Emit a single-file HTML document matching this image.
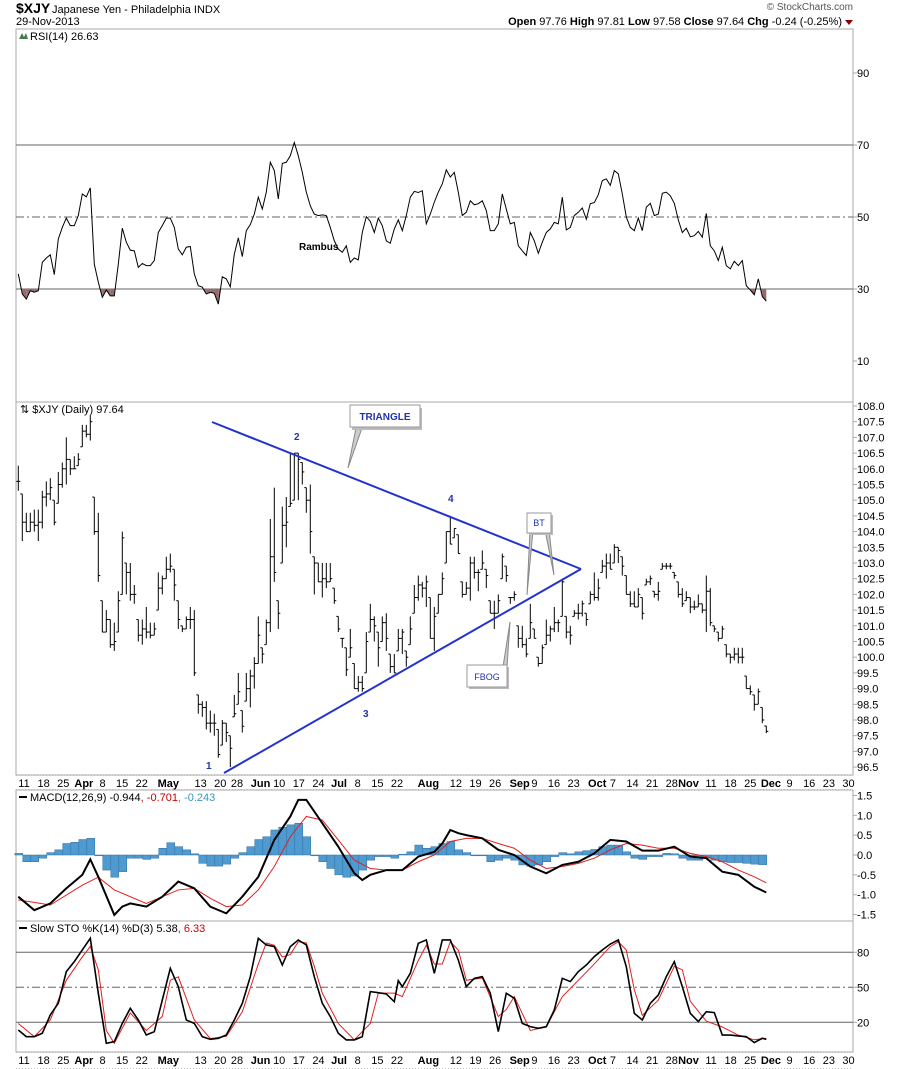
<!DOCTYPE html>
<html><head><meta charset="utf-8">
<style>
html,body{margin:0;padding:0;background:#fff;}
svg{display:block;font-family:"Liberation Sans",Arial,sans-serif;}
</style></head>
<body>
<svg id="chart" width="900" height="1069" viewBox="0 0 900 1069" xmlns="http://www.w3.org/2000/svg">
<rect x="0" y="0" width="900" height="1069" fill="#fff"/>
<g>
<text x="16" y="13" font-size="14" font-weight="bold">$XJY</text>
<text x="52" y="13" font-size="11">Japanese Yen - Philadelphia INDX</text>
<text x="16" y="25" font-size="11">29-Nov-2013</text>
<text x="853" y="10" font-size="10" fill="#555" text-anchor="end">© StockCharts.com</text>
<text x="842" y="25" font-size="11" text-anchor="end"><tspan font-weight="bold">Open</tspan> 97.76 <tspan font-weight="bold">High</tspan> 97.81 <tspan font-weight="bold">Low</tspan> 97.58 <tspan font-weight="bold">Close</tspan> 97.64 <tspan font-weight="bold">Chg</tspan> -0.24 (-0.25%)</text>
<path d="M845 20 L853 20 L849 25 Z" fill="#8b0000"/>
</g>
<g id="panels"></g>
<g id="marks"></g>
<g id="annot">
<line x1="212" y1="422" x2="581" y2="569" stroke="#2233cc" stroke-width="2"/>
<line x1="224" y1="773" x2="581" y2="569" stroke="#2233cc" stroke-width="2"/>
<text x="206" y="769" font-size="10" font-weight="bold" fill="#2233aa">1</text>
<text x="294" y="440" font-size="10" font-weight="bold" fill="#2233aa">2</text>
<text x="363" y="717" font-size="10" font-weight="bold" fill="#2233aa">3</text>
<text x="448" y="502" font-size="10" font-weight="bold" fill="#2233aa">4</text>
<g>
<path d="M356 428 L348 468 L362 428 Z" fill="#ccc" stroke="#888" stroke-width="1"/>
<rect x="352" y="408" width="70" height="22" fill="#bbb"/>
<rect x="350" y="405" width="70" height="22" fill="#fff" stroke="#999"/>
<text x="385" y="420" font-size="10" font-weight="bold" fill="#2233aa" text-anchor="middle">TRIANGLE</text>
</g>
<g>
<path d="M530 530 L527 595 L533 530 Z" fill="#ccc" stroke="#888"/>
<path d="M545 530 L554 575 L549 530 Z" fill="#ccc" stroke="#888"/>
<rect x="529" y="515" width="24" height="20" fill="#bbb"/>
<rect x="527" y="513" width="24" height="20" fill="#fff" stroke="#999"/>
<text x="539" y="526" font-size="9" fill="#2233aa" text-anchor="middle">BT</text>
</g>
<g>
<path d="M503 667 L510 622 L507 667 Z" fill="#ccc" stroke="#888"/>
<rect x="469" y="667" width="40" height="22" fill="#bbb"/>
<rect x="467" y="665" width="40" height="22" fill="#fff" stroke="#999"/>
<text x="487" y="680" font-size="9" fill="#2233aa" text-anchor="middle">FBOG</text>
</g>
<text x="299" y="250" font-size="10" font-weight="bold" fill="#000">Rambus</text>
</g>
</svg>
<script>
// ---------------- DATA ----------------
const priceHigh = [106.1,105.2,104.6,104.6,104.7,104.7,105.3,105.6,105.7,105.0,
105.9,106.2,107.0,106.3,106.4,106.5,107.4,107.4,107.7,105.1,
104.6,101.8,101.5,101.2,101.1,102.1,104.0,103.0,103.0,102.3,
101.2,101.2,101.6,101.1,101.1,102.7,102.6,103.2,103.3,102.8,
101.8,101.0,101.3,101.6,101.5,98.8,98.6,98.6,98.3,98.2,
97.7,98.0,97.9,97.5,98.8,99.5,98.3,99.5,99.6,100.0,
101.3,100.3,101.2,104.4,105.4,101.8,104.8,105.1,106.5,106.5,
106.5,106.2,105.4,105.5,103.2,103.0,103.0,103.0,103.0,102.2,
101.3,100.6,100.3,100.9,99.8,99.4,99.4,100.8,101.7,101.3,
100.8,101.3,101.4,100.1,100.1,100.9,100.9,100.2,101.3,102.3,
102.6,102.4,102.6,101.9,101.6,102.0,102.7,104.0,104.5,104.1,
103.9,102.4,102.4,103.2,103.2,102.8,103.4,102.8,101.8,101.8,
102.0,103.3,102.9,101.9,102.1,101.0,101.0,100.6,101.7,100.9,
100.0,100.4,101.2,101.0,101.6,101.2,102.5,101.3,101.0,101.5,
101.7,101.8,101.4,102.1,102.7,102.5,103.1,103.3,103.3,103.6,
103.5,103.2,102.6,102.1,102.1,102.2,101.9,102.5,102.6,102.1,
102.4,103.0,103.0,103.0,102.7,102.4,102.2,102.1,101.9,101.8,
102.0,101.7,102.6,102.2,101.0,100.8,101.0,100.4,100.1,100.3,
100.3,100.3,99.4,99.1,98.8,99.0,98.4,97.81];
const priceLow = [105.3,103.7,104.0,104.0,104.0,103.7,104.1,104.8,105.0,104.2,
104.9,105.4,105.5,105.8,106.0,106.1,106.7,107.0,106.9,103.9,
102.4,100.8,100.8,100.3,100.2,100.8,102.0,102.0,101.8,101.7,
100.5,100.4,100.6,100.6,100.7,101.5,102.0,102.5,102.7,101.8,
100.9,100.8,100.9,100.9,99.4,98.2,98.1,97.7,97.6,97.5,
96.8,97.2,97.3,96.5,98.1,98.5,97.6,98.6,98.4,99.0,
99.8,99.8,100.4,100.8,102.4,100.9,103.0,103.5,104.8,105.0,
105.0,105.5,104.6,103.3,102.0,102.4,101.9,102.2,102.4,101.7,
100.8,100.3,99.4,100.0,99.0,98.9,98.9,99.5,100.8,100.5,
99.7,100.5,100.2,99.5,99.5,100.2,100.1,99.7,100.4,101.4,
101.8,101.9,101.6,100.6,100.2,101.4,102.0,103.0,103.6,103.8,
103.3,101.9,102.0,101.8,102.5,102.1,102.8,102.2,101.4,100.9,
101.4,102.5,102.4,101.7,101.8,100.3,100.3,100.0,100.6,100.6,
99.7,99.8,100.4,100.5,100.8,100.8,101.3,100.6,100.4,101.3,
101.2,101.3,101.0,101.7,101.8,101.8,102.7,102.5,102.8,103.0,
103.0,102.6,102.0,101.6,101.6,101.6,101.2,102.3,102.3,101.9,
101.8,102.8,102.8,102.8,102.5,101.9,101.6,101.8,101.4,101.5,
101.6,101.4,100.8,101.0,100.8,100.5,100.6,100.0,99.8,99.9,
99.8,99.8,99.0,98.8,98.3,98.5,97.9,97.58];
const priceClose = [105.6,104.3,104.0,104.3,104.2,104.3,105.1,105.2,105.4,104.3,
105.5,106.0,106.3,106.0,106.0,106.3,107.2,107.1,107.5,104.0,
102.6,100.8,101.2,100.4,100.5,101.8,103.8,102.7,102.0,102.0,
100.7,100.9,100.8,100.7,100.9,102.2,102.5,102.8,102.9,102.3,
101.2,100.9,101.2,101.2,99.5,98.5,98.4,97.9,97.9,97.9,
96.9,97.9,97.6,97.1,98.2,98.9,97.8,99.0,99.4,99.8,
100.7,100.1,101.1,103.2,102.7,101.4,104.2,104.3,104.9,106.5,
106.3,105.9,105.0,104.0,103.0,102.4,102.5,102.4,102.5,101.8,
100.9,100.6,99.6,100.3,99.0,99.2,99.0,100.5,101.2,101.0,
100.3,101.1,100.6,99.7,99.5,100.6,100.8,100.0,100.9,101.9,
102.3,102.2,102.4,100.6,101.3,102.0,102.5,104.0,103.6,104.1,
103.3,102.0,102.2,103.0,102.7,102.7,103.0,102.6,101.4,101.4,
101.8,103.2,102.6,101.9,102.0,100.6,100.4,100.1,101.1,100.6,
99.8,100.3,100.7,100.9,101.1,101.1,102.4,100.8,100.7,101.4,
101.4,101.7,101.2,102.0,101.9,102.2,102.9,103.0,102.8,103.5,
103.4,102.9,102.0,101.7,101.6,102.0,101.4,102.4,102.5,102.0,
102.1,102.9,102.9,102.9,102.6,102.0,101.7,101.9,101.6,101.6,
101.7,101.5,102.1,101.1,100.9,100.6,100.9,100.1,100.0,100.1,
100.0,100.0,99.0,98.9,98.5,98.9,98.0,97.64];
const rsiValues = [34.2,28.6,27.2,29.5,29.1,29.5,37.4,38.6,39.5,34.0,43.9,47.1,49.7,47.6,47.6,50.4,56.4,55.6,58.1,36.9,
31.9,27.7,29.7,28.1,28.1,36.9,46.9,43.0,40.8,40.6,36.0,37.1,36.5,36.5,37.9,45.7,47.6,49.7,49.7,47.1,
41.1,39.5,41.6,41.8,34.2,30.9,30.5,28.6,29.1,28.8,25.8,33.4,32.8,30.6,39.7,44.2,39.0,46.2,47.9,50.8,
55.5,52.2,56.9,65.2,62.9,55.0,64.9,65.2,67.0,70.7,67.0,62.4,56.9,53.1,50.8,50.4,50.6,50.4,47.1,43.4,
41.1,40.2,42.0,37.4,38.6,38.1,45.7,50.1,48.8,45.7,49.7,47.6,43.4,42.7,46.7,49.2,46.2,50.4,55.5,57.1,
56.8,57.3,48.1,50.8,54.1,56.9,59.2,63.1,61.1,62.4,56.9,50.4,51.3,54.5,53.4,53.7,54.5,51.8,46.2,46.2,
48.1,56.4,52.2,48.1,48.5,42.0,40.6,39.3,45.7,43.4,39.9,43.0,45.7,46.7,48.5,48.1,55.5,46.4,47.1,50.4,
51.3,52.5,49.4,53.7,54.0,56.2,60.1,60.6,58.8,62.9,62.0,56.4,50.0,47.1,46.2,49.7,46.2,52.7,53.8,50.4,
50.8,56.6,56.9,55.9,53.8,49.2,45.7,46.9,44.5,44.8,46.0,44.4,51.0,42.0,40.6,37.9,41.6,36.5,35.6,37.7,
36.5,37.9,30.9,29.7,28.4,32.8,27.9,26.63];
const macdIdx = [0,4,8,12,16,18,20,24,26,28,32,36,40,44,48,52,56,60,64,68,70,72,76,80,84,86,88,92,96,100,104,106,108,110,112,116,120,124,128,132,136,140,144,148,152,156,160,164,168,172,176,180,184,187];
const macdLine = [-1.05,-1.39,-1.22,-0.84,-0.50,-0.11,-0.55,-1.51,-1.30,-1.22,-1.30,-1.05,-0.67,-0.84,-1.30,-1.47,-1.05,-0.55,0.38,0.97,1.39,1.39,0.80,0.21,-0.46,-0.63,-0.50,-0.38,-0.38,-0.04,0.08,0.29,0.63,0.55,0.50,0.42,0.13,0.00,-0.29,-0.46,-0.25,-0.17,0.04,0.38,0.34,0.11,0.11,0.21,-0.04,-0.08,-0.42,-0.50,-0.80,-0.944];
const signalIdx = [0,8,16,20,24,32,40,44,48,52,56,60,64,68,72,76,80,84,88,92,96,100,104,108,112,116,120,124,128,132,136,140,144,148,152,156,160,164,168,172,176,180,184,187];
const signalLine = [-1.13,-1.26,-0.76,-0.56,-0.88,-1.22,-0.88,-0.84,-1.09,-1.30,-1.26,-0.88,-0.29,0.46,0.97,0.88,0.38,-0.13,-0.34,-0.38,-0.38,-0.17,0.0,0.34,0.42,0.42,0.29,0.17,-0.13,-0.34,-0.29,-0.21,-0.08,0.13,0.29,0.25,0.17,0.17,0.04,-0.04,-0.17,-0.38,-0.55,-0.701];
const histValues = [0.04,-0.17,-0.17,-0.08,0.06,0.13,0.29,0.32,0.39,0.42,0,-0.38,-0.56,-0.42,-0.08,-0.08,-0.11,-0.08,0.17,0.31,
0.21,0.13,0.03,-0.21,-0.28,-0.28,-0.23,-0.08,0.06,0.21,0.39,0.46,0.63,0.70,0.76,0.80,0.46,0,-0.17,-0.34,
-0.50,-0.56,-0.53,-0.38,-0.13,-0.04,-0.04,-0.08,0.02,0.08,0.25,0.17,0.21,0.29,0.34,0.13,0.06,0,-0.02,-0.17,
-0.13,-0.08,-0.13,-0.25,-0.28,-0.25,-0.17,-0.04,0.06,0.03,0.08,0.11,0.14,0.21,0.25,0.25,0.08,-0.08,-0.11,-0.04,
-0.04,0.04,0.03,-0.08,-0.13,-0.13,-0.08,-0.13,-0.17,-0.19,-0.19,-0.21,-0.23,-0.243];
const stoKIdx = [0,2,4,6,8,10,12,14,16,18,20,22,24,26,28,30,32,34,36,38,40,42,44,46,48,50,52,54,56,58,60,62,64,66,68,70,72,74,76,78,80,82,84,86,88,90,92,94,95,96,98,100,102,104,106,108,110,112,114,116,118,120,122,124,126,128,130,132,134,136,138,140,142,144,146,148,150,152,154,156,158,160,162,164,166,168,170,172,174,176,178,180,182,184,186,187];
const stoK = [13.4,7.7,7.7,10.6,26.3,36.3,63.4,72.0,82.0,92.0,44.9,2.0,3.4,19.1,32.0,22.0,9.1,12.0,39.1,66.3,50.6,22.0,19.1,7.7,5.4,6.3,9.1,22.0,36.3,59.1,92.0,86.3,84.9,69.1,84.9,90.6,86.3,59.1,36.3,24.9,10.6,4.9,4.9,7.7,46.3,45.4,44.3,37.7,55.7,50.6,62.0,87.7,90.6,62.0,90.6,90.6,73.4,50.6,57.7,59.1,44.9,12.0,44.9,40.6,19.1,16.3,14.9,16.3,30.6,57.7,54.9,63.4,69.1,76.3,82.0,87.1,90.6,67.7,27.7,22.0,36.3,43.4,59.1,72.0,50.6,27.7,20.6,29.1,28.3,9.1,9.1,8.3,7.7,2.6,6.3,5.38];
const stoDIdx = [0,4,8,12,16,18,20,22,24,28,32,36,38,40,44,48,52,56,60,62,64,66,68,70,72,74,76,80,84,88,90,94,96,100,102,104,106,108,110,112,116,120,122,124,128,132,136,140,144,148,150,152,154,156,160,164,166,168,172,176,180,184,187];
const stoD = [19,7.7,22,56,76,85,65,13,2,28,13,25,56,59,22,6,8,29,70,88,86,76,78,89,88,68,45,19,5,19,45,45,42,73,86,70,70,89,82,56,58,25,31,42,13,16,42,56,70,85,89,82,48,26,39,68,65,38,21,16,9,5,6.33];
const rsiTicks = [90,70,50,30,10];
const priceTicks = ["108.0","107.5","107.0","106.5","106.0","105.5","105.0","104.5","104.0","103.5","103.0","102.5","102.0","101.5","101.0","100.5","100.0","99.5","99.0","98.5","98.0","97.5","97.0","96.5"];
const macdTicks = ["1.5","1.0","0.5","0.0","-0.5","-1.0","-1.5"];
const stoTicks = [80,50,20];
const dateLabels = ["11","18","25","Apr","8","15","22","May","13","20","28","Jun","10","17","24","Jul","8","15","22","Aug","12","19","26","Sep","9","16","23","Oct","7","14","21","28","Nov","11","18","25","Dec","9","16","23","30"];
const dateWeeks = [0,1,2,3.05,4,5,6,7.35,9,10,10.85,12.05,13,14,15,16.05,17,18,19,20.6,22,23,24,25.25,26,27,28,29.2,30,31,32,33,33.85,35,36,37,38.05,39,40,41,42];
const dateBold = ["Apr","May","Jun","Jul","Aug","Sep","Oct","Nov","Dec"];

// ---------------- SCALES ----------------
const L = 16, R = 853;
const xBar = i => 18.3 + 4 * i;
const xWeek = k => 24 + k * 19.63;
const yRsi = v => 289 - (v - 30) * 3.6;
const yPrice = p => 406 + (108 - p) * 31.4;
const yMacd = v => 855 - v * 39.7;
const ySto = v => 987.3 - (v - 50) * 1.1667;

const NS = "http://www.w3.org/2000/svg";
function mk(tag, attrs, parent) {
  const e = document.createElementNS(NS, tag);
  for (const k in attrs) e.setAttribute(k, attrs[k]);
  parent.appendChild(e);
  return e;
}
const panels = document.getElementById('panels');
const marks = document.getElementById('marks');

// panel frames
const frames = [["rsi-panel",29,402],["price-panel",402,775],["macd-panel",790,921],["sto-panel",921,1052]];
frames.forEach(f => {
  const r = mk('rect', {x:L, y:f[1], width:R-L, height:f[2]-f[1], fill:'none', stroke:'#aaa', 'stroke-width':1}, panels);
  
  
});
// date axis rows
[[775,790,"date-axis-top"],[1052,1069,"date-axis-bottom"]].forEach(row => {
  const g = mk('g', {}, panels);
  
  
  mk('line', {x1:L, y1:row[0]+0.5, x2:R, y2:row[0]+0.5, stroke:'#bbb', 'stroke-dasharray':'1,2'}, g);
  mk('line', {x1:L, y1:row[1]-0.5, x2:R, y2:row[1]-0.5, stroke:'#bbb', 'stroke-dasharray':'1,2'}, g);
  dateLabels.forEach((lab, j) => {
    const t = mk('text', {x:xWeek(dateWeeks[j]), y:row[0]+12, 'font-size':11, 'text-anchor':'middle', 'font-weight': dateBold.includes(lab) ? 'bold' : 'normal'}, g);
    t.textContent = lab;
    
    
  });
});

// panel titles
function title(x, y, txt, name, extra) {
  const t = mk('text', {x:x, y:y, 'font-size':11}, panels);
  t.textContent = txt;
  
  
  return t;
}
mk('path', {d:'M19 39 L22 33 L24 37 L26 33 L28 39 Z', fill:'#4a7a4a'}, panels);
title(30, 40, 'RSI(14) 26.63', 'rsi-title');
title(20, 413, '⇅ $XJY (Daily) 97.64', 'price-title');
const mt = title(30, 801, '', 'macd-title');
mt.innerHTML = 'MACD(12,26,9) -0.944<tspan fill="#cc0000">, -0.701</tspan><tspan fill="#3399cc">, -0.243</tspan>';
mk('line', {x1:19, y1:797, x2:27, y2:797, stroke:'#000', 'stroke-width':2}, panels);
const st = title(30, 932, '', 'sto-title');
st.innerHTML = 'Slow STO %K(14) %D(3) 5.38<tspan fill="#cc0000">, 6.33</tspan>';
mk('line', {x1:19, y1:928, x2:27, y2:928, stroke:'#000', 'stroke-width':2}, panels);

// axis labels
function tickLabel(y, txt, name) {
  mk('line', {x1:R, y1:y, x2:R+4, y2:y, stroke:'#aaa'}, panels);
  const t = mk('text', {x:R+4, y:y+4, 'font-size':11}, panels);
  t.textContent = txt;
  
  
}
rsiTicks.forEach(v => tickLabel(yRsi(v), String(v), 'rsi-tick-label'));
priceTicks.forEach(s => tickLabel(yPrice(parseFloat(s)), s, 'price-tick-label'));
macdTicks.forEach(s => tickLabel(yMacd(parseFloat(s)), s, 'macd-tick-label'));
stoTicks.forEach(v => tickLabel(ySto(v), String(v), 'sto-tick-label'));

// RSI reference lines
[70,30].forEach(v => { const l = mk('line', {x1:L, y1:yRsi(v), x2:R, y2:yRsi(v), stroke:'#666'}, panels);
    });
mk('line', {x1:L, y1:yRsi(50), x2:R, y2:yRsi(50), stroke:'#666', 'stroke-dasharray':'8,3,2,3'}, panels);
[80,20].forEach(v => { const l = mk('line', {x1:L, y1:ySto(v), x2:R, y2:ySto(v), stroke:'#666'}, panels);
    });
mk('line', {x1:L, y1:ySto(50), x2:R, y2:ySto(50), stroke:'#666', 'stroke-dasharray':'8,3,2,3'}, panels);

// RSI oversold fill
for (let i = 0; i < rsiValues.length - 1; i++) {
  const a = rsiValues[i], b = rsiValues[i+1];
  if (a < 30 || b < 30) {
    const x1 = xBar(i), x2 = xBar(i+1);
    let pts = [];
    const cross = (x1 + (x2 - x1) * (30 - a) / (b - a));
    if (a < 30 && b < 30) pts = [[x1,yRsi(30)],[x1,yRsi(a)],[x2,yRsi(b)],[x2,yRsi(30)]];
    else if (a < 30) pts = [[x1,yRsi(30)],[x1,yRsi(a)],[cross,yRsi(30)]];
    else pts = [[cross,yRsi(30)],[x2,yRsi(b)],[x2,yRsi(30)]];
    const p = mk('polygon', {points: pts.map(q => q.join(',')).join(' '), fill:'#9a6a6a'}, marks);
    
    
  }
}
// RSI line
const rsiPath = mk('polyline', {points: rsiValues.map((v,i) => xBar(i)+','+yRsi(v)).join(' '), fill:'none', stroke:'#000', 'stroke-width':1}, marks);



// Price bars
priceClose.forEach((c, i) => {
  const x = xBar(i);
  const o = i > 0 ? priceClose[i-1] : c;
  const g = mk('g', {stroke:'#000', 'stroke-width':1}, marks);
  
  
  mk('line', {x1:x, y1:yPrice(priceHigh[i]), x2:x, y2:yPrice(priceLow[i])}, g);
  mk('line', {x1:x-2, y1:yPrice(Math.min(Math.max(o,priceLow[i]),priceHigh[i])), x2:x, y2:yPrice(Math.min(Math.max(o,priceLow[i]),priceHigh[i]))}, g);
  mk('line', {x1:x, y1:yPrice(c), x2:x+2, y2:yPrice(c)}, g);
});

// MACD histogram
histValues.forEach((v, j) => {
  const i = Math.min(j * 2, 187);
  const y0 = yMacd(0), y1 = yMacd(v);
  const r = mk('rect', {x:xBar(i)-3.5, y:Math.min(y0,y1), width:8, height:Math.max(0.8, Math.abs(y1-y0)), fill:'#4f9ad0', stroke:'#2e6f9e', 'stroke-width':0.5}, marks);
  
  
});
const sig = mk('polyline', {points: signalIdx.map((i,j) => xBar(i)+','+yMacd(signalLine[j])).join(' '), fill:'none', stroke:'#e02020', 'stroke-width':1}, marks);


const mac = mk('polyline', {points: macdIdx.map((i,j) => xBar(i)+','+yMacd(macdLine[j])).join(' '), fill:'none', stroke:'#000', 'stroke-width':2}, marks);



// Stochastics
const dl = mk('polyline', {points: stoDIdx.map((i,j) => xBar(i)+','+ySto(stoD[j])).join(' '), fill:'none', stroke:'#e02020', 'stroke-width':1}, marks);


const kl = mk('polyline', {points: stoKIdx.map((i,j) => xBar(i)+','+ySto(stoK[j])).join(' '), fill:'none', stroke:'#000', 'stroke-width':1.6}, marks);


</script>
</body></html>
